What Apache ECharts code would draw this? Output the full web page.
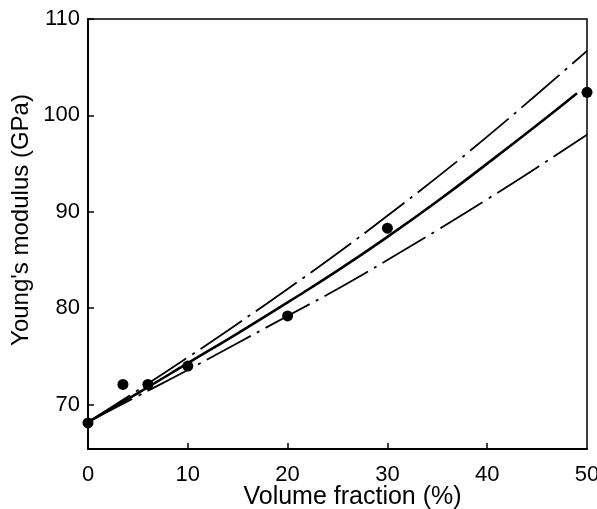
<!DOCTYPE html>
<html>
<head>
<meta charset="utf-8">
<script src="https://cdn.jsdelivr.net/npm/echarts@6/dist/echarts.min.js"></script>
<style>html,body{margin:0;padding:0;background:#fff}#c{width:597px;height:509px}</style>
</head>
<body>
<div id="c"></div>
<script>
const xTicks = [0, 10, 20, 30, 40, 50];
const yTicks = [70, 80, 90, 100, 110];
const curveX = [0, 5, 10, 15, 20, 25, 30, 35, 40, 45, 49];
const solidY = [68.2, 71.2, 74.3, 77.4, 80.6, 83.9, 87.4, 91.1, 95.0, 99.0, 102.3];
const upperX = [0, 5, 10, 15, 20, 25, 30, 35, 40, 45, 50];
const upperY = [68.2, 71.5, 74.9, 78.4, 82.0, 85.7, 89.6, 93.6, 97.8, 102.2, 106.7];
const lowerX = [0, 5, 10, 15, 20, 25, 30, 35, 40, 45, 50];
const lowerY = [68.2, 70.9, 73.6, 76.4, 79.2, 82.0, 85.0, 88.1, 91.3, 94.6, 98.0];
const pointsX = [0, 3.5, 6, 10, 20, 30, 50];
const pointsY = [68.1, 72.1, 72.1, 74.0, 79.2, 88.3, 102.4];

const zip = (a, b) => a.map((v, i) => [v, b[i]]);
const font = 'Liberation Sans, Arial, sans-serif';
const chart = echarts.init(document.getElementById('c'));
chart.setOption({
  animation: false,
  backgroundColor: '#fff',
  grid: { left: 88, right: 10, top: 19, bottom: 60, show: true, borderColor: '#000', borderWidth: 1.5,
          outerBoundsMode: 'none', containLabel: false },
  xAxis: {
    type: 'value', min: 0, max: 50, interval: 10,
    name: 'Volume fraction (%)', nameLocation: 'middle', nameGap: 36, nameMoveOverlap: false,
    nameTextStyle: { fontFamily: font, fontSize: 25, color: '#000', padding: [0, 0, 0, 30] },
    axisLine: { show: true, lineStyle: { color: '#000', width: 2 } },
    axisTick: { show: true, inside: true, length: 6, lineStyle: { color: '#000', width: 1.5 }, customValues: [10, 20, 30, 40] },
    axisLabel: { fontFamily: font, fontSize: 22, color: '#000', margin: 15, customValues: xTicks },
    splitLine: { show: false }
  },
  yAxis: {
    type: 'value', min: 65.4, max: 110,
    name: "Young's modulus (GPa)", nameLocation: 'middle', nameGap: 55, nameMoveOverlap: false,
    nameTextStyle: { fontFamily: font, fontSize: 24, color: '#000', padding: [0, 0, 0, 28] },
    axisLine: { show: true, lineStyle: { color: '#000', width: 2 } },
    axisTick: { show: true, inside: true, length: 6, lineStyle: { color: '#000', width: 1.5 }, customValues: yTicks },
    axisLabel: { fontFamily: font, fontSize: 22, color: '#000', margin: 8, customValues: yTicks },
    splitLine: { show: false }
  },
  series: [
    { type: 'line', data: zip(upperX, upperY), smooth: true, symbol: 'none',
      lineStyle: { color: '#000', width: 1.8, type: [50, 7, 3, 7] } },
    { type: 'line', data: zip(lowerX, lowerY), smooth: true, symbol: 'none',
      lineStyle: { color: '#000', width: 1.8, type: [50, 7, 3, 7] } },
    { type: 'line', data: zip(curveX, solidY), smooth: true, symbol: 'none',
      lineStyle: { color: '#000', width: 2.6 } },
    { type: 'scatter', data: zip(pointsX, pointsY), symbol: 'circle', symbolSize: 11,
      itemStyle: { color: '#000', opacity: 1 }, z: 5 }
  ]
});
</script>
</body>
</html>
